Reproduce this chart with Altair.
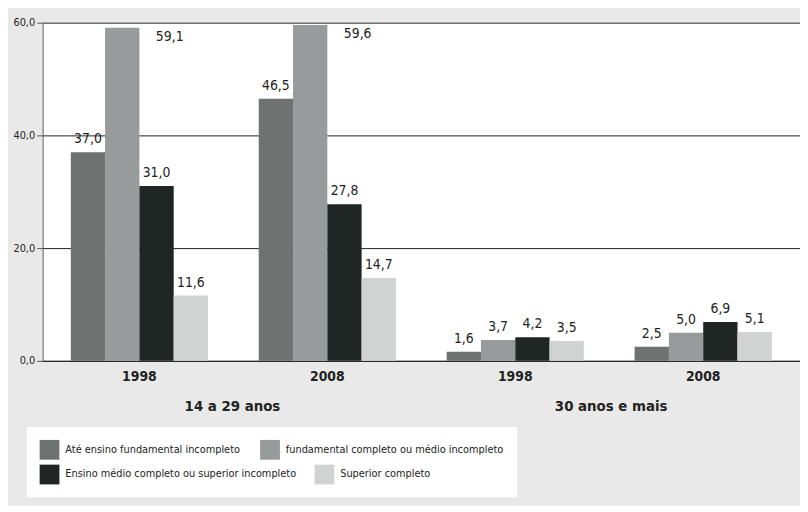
import altair as alt
import pandas as pd

age_groups = ["14 a 29 anos", "30 anos e mais"]
years = ["1998", "2008"]
series = [
    "Até ensino fundamental incompleto",
    "fundamental completo ou médio incompleto",
    "Ensino médio completo ou superior incompleto",
    "Superior completo",
]
# values in order: (14-29, 1998), (14-29, 2008), (30+, 1998), (30+, 2008)
v_ate_fund = [37.0, 46.5, 1.6, 2.5]
v_fund_medio = [59.1, 59.6, 3.7, 5.0]
v_medio_sup = [31.0, 27.8, 4.2, 6.9]
v_superior = [11.6, 14.7, 3.5, 5.1]
colors = ["#6e7372", "#979b9b", "#202624", "#d1d3d2"]

cells = [(a, y) for a in age_groups for y in years]
cell_keys = [f"{a}|{y}" for a, y in cells]
rows = []
for s, vals in zip(series, [v_ate_fund, v_fund_medio, v_medio_sup, v_superior]):
    for (a, y), v in zip(cells, vals):
        rows.append({"age": a, "year": y, "cell": f"{a}|{y}", "series": s, "value": v,
                     "label": f"{v:.1f}".replace(".", ",")})
df = pd.DataFrame(rows)

FONT = "Liberation Sans Narrow, DejaVu Sans Condensed, Roboto, sans-serif"
LX, LY = -16, 409

x_enc = alt.X("cell:N", title=None,
              scale=alt.Scale(domain=cell_keys, paddingInner=0.27, paddingOuter=0.15),
              axis=alt.Axis(labelAngle=0, labelFontSize=14, labelFontWeight="bold",
                            labelColor="#222", ticks=False, domain=True,
                            domainColor="#222", labelPadding=9,
                            labelExpr="split(datum.label, '|')[1]"))
xo_enc = alt.XOffset("series:N", sort=series, scale=alt.Scale(paddingInner=0))
y_enc = alt.Y("value:Q", title=None,
              scale=alt.Scale(domain=[0, 60]),
              axis=alt.Axis(values=[0, 20, 40, 60], grid=True, gridColor="#222",
                            domainColor="#555", tickColor="#555", tickSize=6,
                            labelFontSize=11, labelColor="#222", labelPadding=2,
                            labelExpr="replace(format(datum.value, '.1f'), '.', ',')"))

common_legend = dict(title=None, orient="none", legendX=LX, symbolType="square",
                     symbolSize=400, symbolStrokeWidth=0, padding=13,
                     labelFontSize=11, labelColor="#222", labelOffset=6)

base = alt.Chart(df)

bars = base.mark_bar().encode(
    x=x_enc, xOffset=xo_enc, y=y_enc,
    color=alt.Color("series:N", sort=series,
                    scale=alt.Scale(domain=series, range=colors), legend=None),
)

# white legend box (invisible entries without labels; only its background shows)
box = base.mark_bar(opacity=0).encode(
    x=x_enc, xOffset=xo_enc, y=y_enc,
    color=alt.Color("series:N", sort=series,
                    scale=alt.Scale(domain=series, range=["#fff"] * 4),
                    legend=alt.Legend(**common_legend, legendY=LY, direction="horizontal",
                                      columns=2, fillColor="white", symbolOpacity=0,
                                      rowPadding=5, columnPadding=418, labelExpr="''")),
)

row1 = base.mark_bar(opacity=0).encode(
    x=x_enc, xOffset=xo_enc, y=y_enc,
    color=alt.Color("series:N", scale=alt.Scale(domain=series[:2], range=colors[:2]),
                    legend=alt.Legend(**common_legend, legendY=LY, direction="horizontal",
                                      symbolOpacity=1, columnPadding=20, labelLimit=400)),
).transform_filter(alt.FieldOneOfPredicate(field="series", oneOf=series[:2]))

row2 = base.mark_bar(opacity=0).encode(
    x=x_enc, xOffset=xo_enc, y=y_enc,
    color=alt.Color("series:N", scale=alt.Scale(domain=series[2:], range=colors[2:]),
                    legend=alt.Legend(**common_legend, legendY=LY + 25, direction="horizontal",
                                      symbolOpacity=1, columnPadding=18, labelLimit=400)),
).transform_filter(alt.FieldOneOfPredicate(field="series", oneOf=series[2:]))

labels = base.mark_text(dy=-13, fontSize=14, color="#222").encode(
    x=x_enc, xOffset=xo_enc, y=y_enc, text="label:N"
).transform_filter("datum.value < 55")

labels_top = base.mark_text(dx=48, dy=2, baseline="top", fontSize=14, color="#222").encode(
    x=x_enc, xOffset=xo_enc, y=y_enc, text="label:N"
).transform_filter("datum.value >= 55")

main = alt.layer(bars, box, row1, row2, labels, labels_top).resolve_scale(color="independent")

headers = base.mark_text(opacity=0).encode(
    x=alt.X("age:N", title=None, sort=age_groups,
            scale=alt.Scale(domain=age_groups),
            axis=alt.Axis(orient="bottom", labelAngle=0, labelFontSize=15,
                          labelFontWeight="bold", labelColor="#222", ticks=False,
                          domain=False, labelPadding=38)),
    text="age:N",
)

chart = alt.layer(main, headers).resolve_scale(x="independent").properties(
    width=766, height=342,
    background="#e9e9e9",
    padding={"left": 4, "top": 6, "right": 0, "bottom": 6},
).configure(font=FONT).configure_view(fill="white", strokeWidth=0)

chart.save("out.html", embed_options={"renderer": "svg", "actions": False})
